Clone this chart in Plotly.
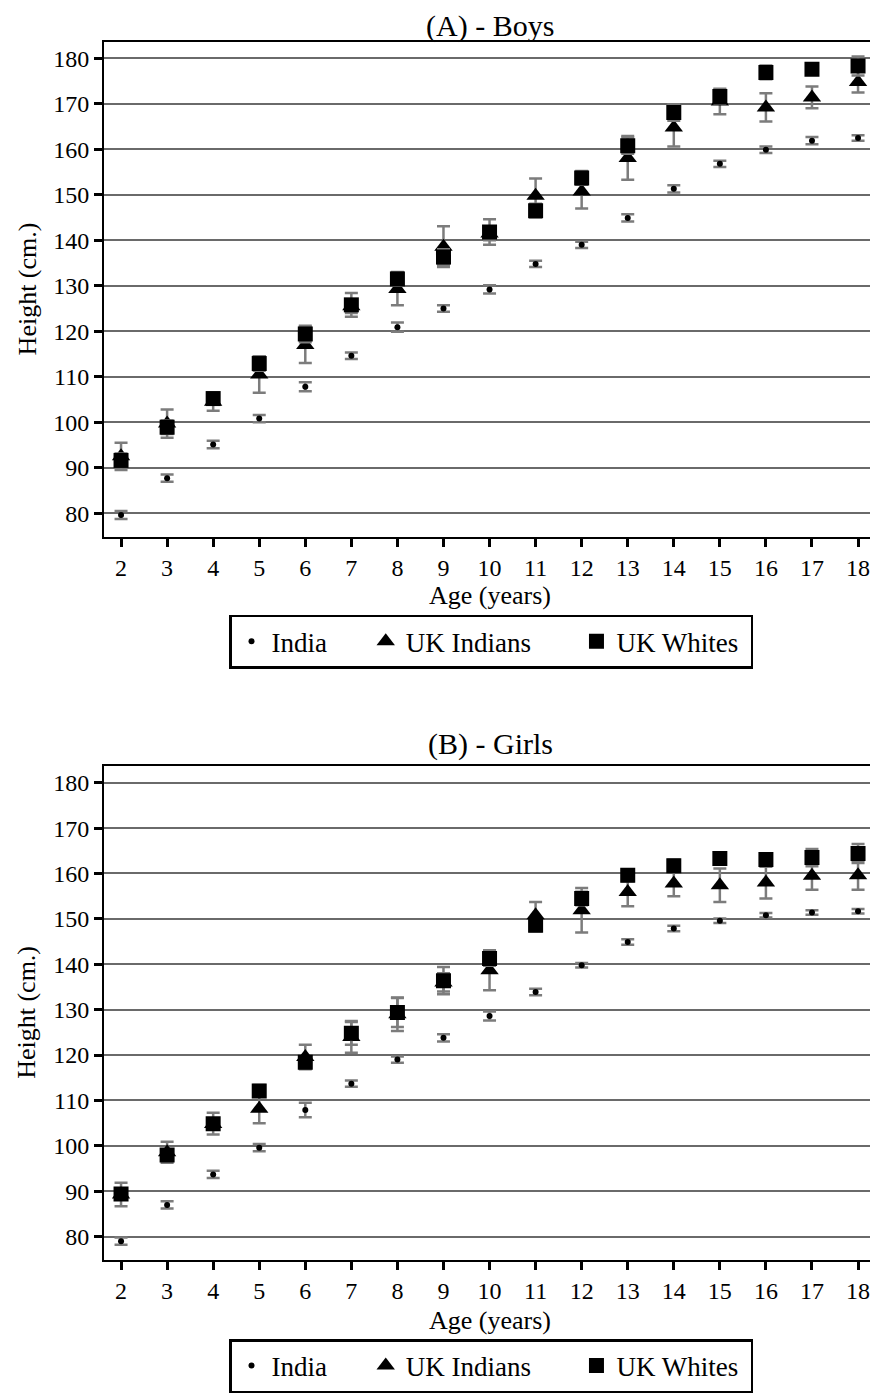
import plotly.graph_objects as go

ages = list(range(2, 19))
x_ticks = list(range(2, 19))
y_ticks = [80, 90, 100, 110, 120, 130, 140, 150, 160, 170, 180]

series_names = ["India", "UK Indians", "UK Whites"]

# Boys (cm) and half-width of the error bars
india_boys = [79.6, 87.7, 95.1, 100.8, 107.8, 114.6, 120.9, 125.0, 129.2, 134.8, 139.0, 144.9, 151.3, 156.8, 159.9, 161.9, 162.5]
india_boys_err = [0.9, 0.8, 0.8, 0.8, 1.0, 0.7, 1.0, 0.7, 0.9, 0.7, 0.7, 0.8, 0.8, 0.7, 0.7, 0.8, 0.6]
ukind_boys = [92.5, 99.7, 104.5, 110.5, 117.0, 125.5, 129.3, 138.6, 141.5, 149.8, 150.7, 158.1, 164.8, 170.5, 169.2, 171.4, 174.8]
ukind_boys_err = [3.0, 3.1, 2.0, 4.0, 4.0, 1.5, 3.6, 4.5, 1.5, 3.8, 3.7, 4.8, 4.2, 2.8, 3.1, 2.4, 2.3]
ukwhite_boys = [91.6, 98.9, 105.2, 112.9, 119.4, 125.8, 131.5, 136.3, 141.8, 146.5, 153.7, 160.8, 168.1, 171.6, 176.9, 177.6, 178.3]
ukwhite_boys_err = [1.5, 1.5, 1.2, 1.6, 1.8, 2.6, 1.5, 1.7, 2.8, 1.5, 1.5, 1.8, 1.8, 1.5, 1.5, 1.2, 2.1]

# Girls (cm) and half-width of the error bars
india_girls = [79.0, 87.0, 93.7, 99.6, 107.9, 113.7, 119.0, 123.8, 128.6, 133.9, 139.8, 144.9, 147.9, 149.6, 150.8, 151.4, 151.7]
india_girls_err = [0.8, 0.8, 0.8, 0.8, 1.6, 0.7, 0.7, 0.8, 1.0, 0.7, 0.5, 0.6, 0.6, 0.5, 0.5, 0.5, 0.5]
ukind_girls = [89.3, 98.6, 104.8, 108.2, 119.6, 124.0, 129.0, 136.0, 138.7, 150.8, 151.9, 155.9, 157.8, 157.4, 158.0, 159.5, 159.6]
ukind_girls_err = [2.6, 2.3, 1.0, 3.2, 2.7, 3.5, 3.7, 2.0, 4.4, 2.9, 4.9, 3.1, 2.8, 3.7, 3.5, 3.1, 3.2]
ukwhite_girls = [89.4, 98.0, 104.9, 112.1, 118.4, 124.8, 129.4, 136.4, 141.3, 148.6, 154.5, 159.6, 161.7, 163.3, 163.1, 163.5, 164.4]
ukwhite_girls_err = [1.2, 1.2, 2.4, 1.3, 1.3, 2.5, 3.2, 3.0, 1.6, 1.3, 1.5, 1.3, 1.3, 1.3, 1.3, 1.9, 2.1]

FONT = "Liberation Serif"
ERR_COLOR = "#7c7c7c"
NBSP = "\u00a0"
legend_labels = ["India" + NBSP * 5, "UK Indians" + NBSP * 6, "UK Whites" + NBSP]

symbols = ["circle", "triangle-up", "square"]
sizes = [6, 16, 15]

fig = go.Figure()

panels = [
    ("x", "y", "legend", [india_boys, ukind_boys, ukwhite_boys],
     [india_boys_err, ukind_boys_err, ukwhite_boys_err]),
    ("x2", "y2", "legend2", [india_girls, ukind_girls, ukwhite_girls],
     [india_girls_err, ukind_girls_err, ukwhite_girls_err]),
]

for xa, ya, leg, vals, errs in panels:
    for i in range(3):
        fig.add_trace(go.Scatter(
            x=ages, y=vals[i], mode="markers", name=legend_labels[i],
            xaxis=xa, yaxis=ya, legend=leg,
            marker=dict(symbol=symbols[i], size=sizes[i], color="black",
                        line=dict(width=0)),
            error_y=dict(type="data", array=errs[i], visible=True,
                         color=ERR_COLOR, thickness=2.5, width=6.5),
            hoverinfo="x+y",
        ))

# page body adds an 8px margin; lay out relative to that offset
OFF = 8
W, H = 870, 1385
ML, MR = 104 - OFF, 2
PW = W - ML - MR

def py(p):
    return 1 - (p - OFF) / H

def px(p):
    return (p - OFF - ML) / PW

axis_common = dict(
    showline=True, linecolor="black", linewidth=2, mirror=True,
    ticks="outside", ticklen=8, tickwidth=2.5, tickcolor="black",
    tickfont=dict(family=FONT, size=24, color="black"),
    zeroline=False,
)

xr = [1.63, 18.39]
yr = [74.8, 183.6]

fig.update_layout(
    width=W, height=H,
    margin=dict(l=ML, r=MR, t=0, b=0),
    paper_bgcolor="white", plot_bgcolor="white",
    font=dict(family=FONT, color="black"),
    xaxis=dict(domain=[0, 1], anchor="y", range=xr, tickvals=x_ticks,
               showgrid=False, **axis_common),
    yaxis=dict(domain=[py(538), py(42)], anchor="x", range=yr, tickvals=y_ticks,
               showgrid=True, gridcolor="#6a6a6a", gridwidth=1.5, **axis_common),
    xaxis2=dict(domain=[0, 1], anchor="y2", range=xr, tickvals=x_ticks,
                showgrid=False, **axis_common),
    yaxis2=dict(domain=[py(1263), py(768)], anchor="x2", range=yr, tickvals=y_ticks,
                showgrid=True, gridcolor="#6a6a6a", gridwidth=1.5, **axis_common),
    legend=dict(orientation="h", x=px(229), y=py(616), xanchor="left", yanchor="top",
                xref="paper", yref="paper",
                bordercolor="black", borderwidth=2.5, bgcolor="white",
                font=dict(family=FONT, size=27, color="black")),
    legend2=dict(orientation="h", x=px(229), y=py(1342), xanchor="left", yanchor="top",
                 xref="paper", yref="paper",
                 bordercolor="black", borderwidth=2.5, bgcolor="white",
                 font=dict(family=FONT, size=27, color="black")),
    showlegend=True,
)

ann_font = dict(family=FONT, size=26, color="black")
title_font = dict(family=FONT, size=30, color="black")
annotations = [
    dict(text="(A) - Boys", x=0.5, y=1.0, yanchor="top", font=title_font),
    dict(text="(B) - Girls", x=0.5, y=py(746), yanchor="middle", font=title_font),
    dict(text="Age (years)", x=0.5, y=py(597), yanchor="middle", font=ann_font),
    dict(text="Age (years)", x=0.5, y=py(1323), yanchor="middle", font=ann_font),
    dict(text="Height (cm.)", x=px(27), y=py(290), yanchor="middle", font=ann_font, textangle=-90),
    dict(text="Height (cm.)", x=px(27), y=py(1015), yanchor="middle", font=ann_font, textangle=-90),
]
for a in annotations:
    fig.add_annotation(xref="paper", yref="paper", xanchor="center",
                       showarrow=False, borderpad=0, **a)

fig.write_html("out.html")
